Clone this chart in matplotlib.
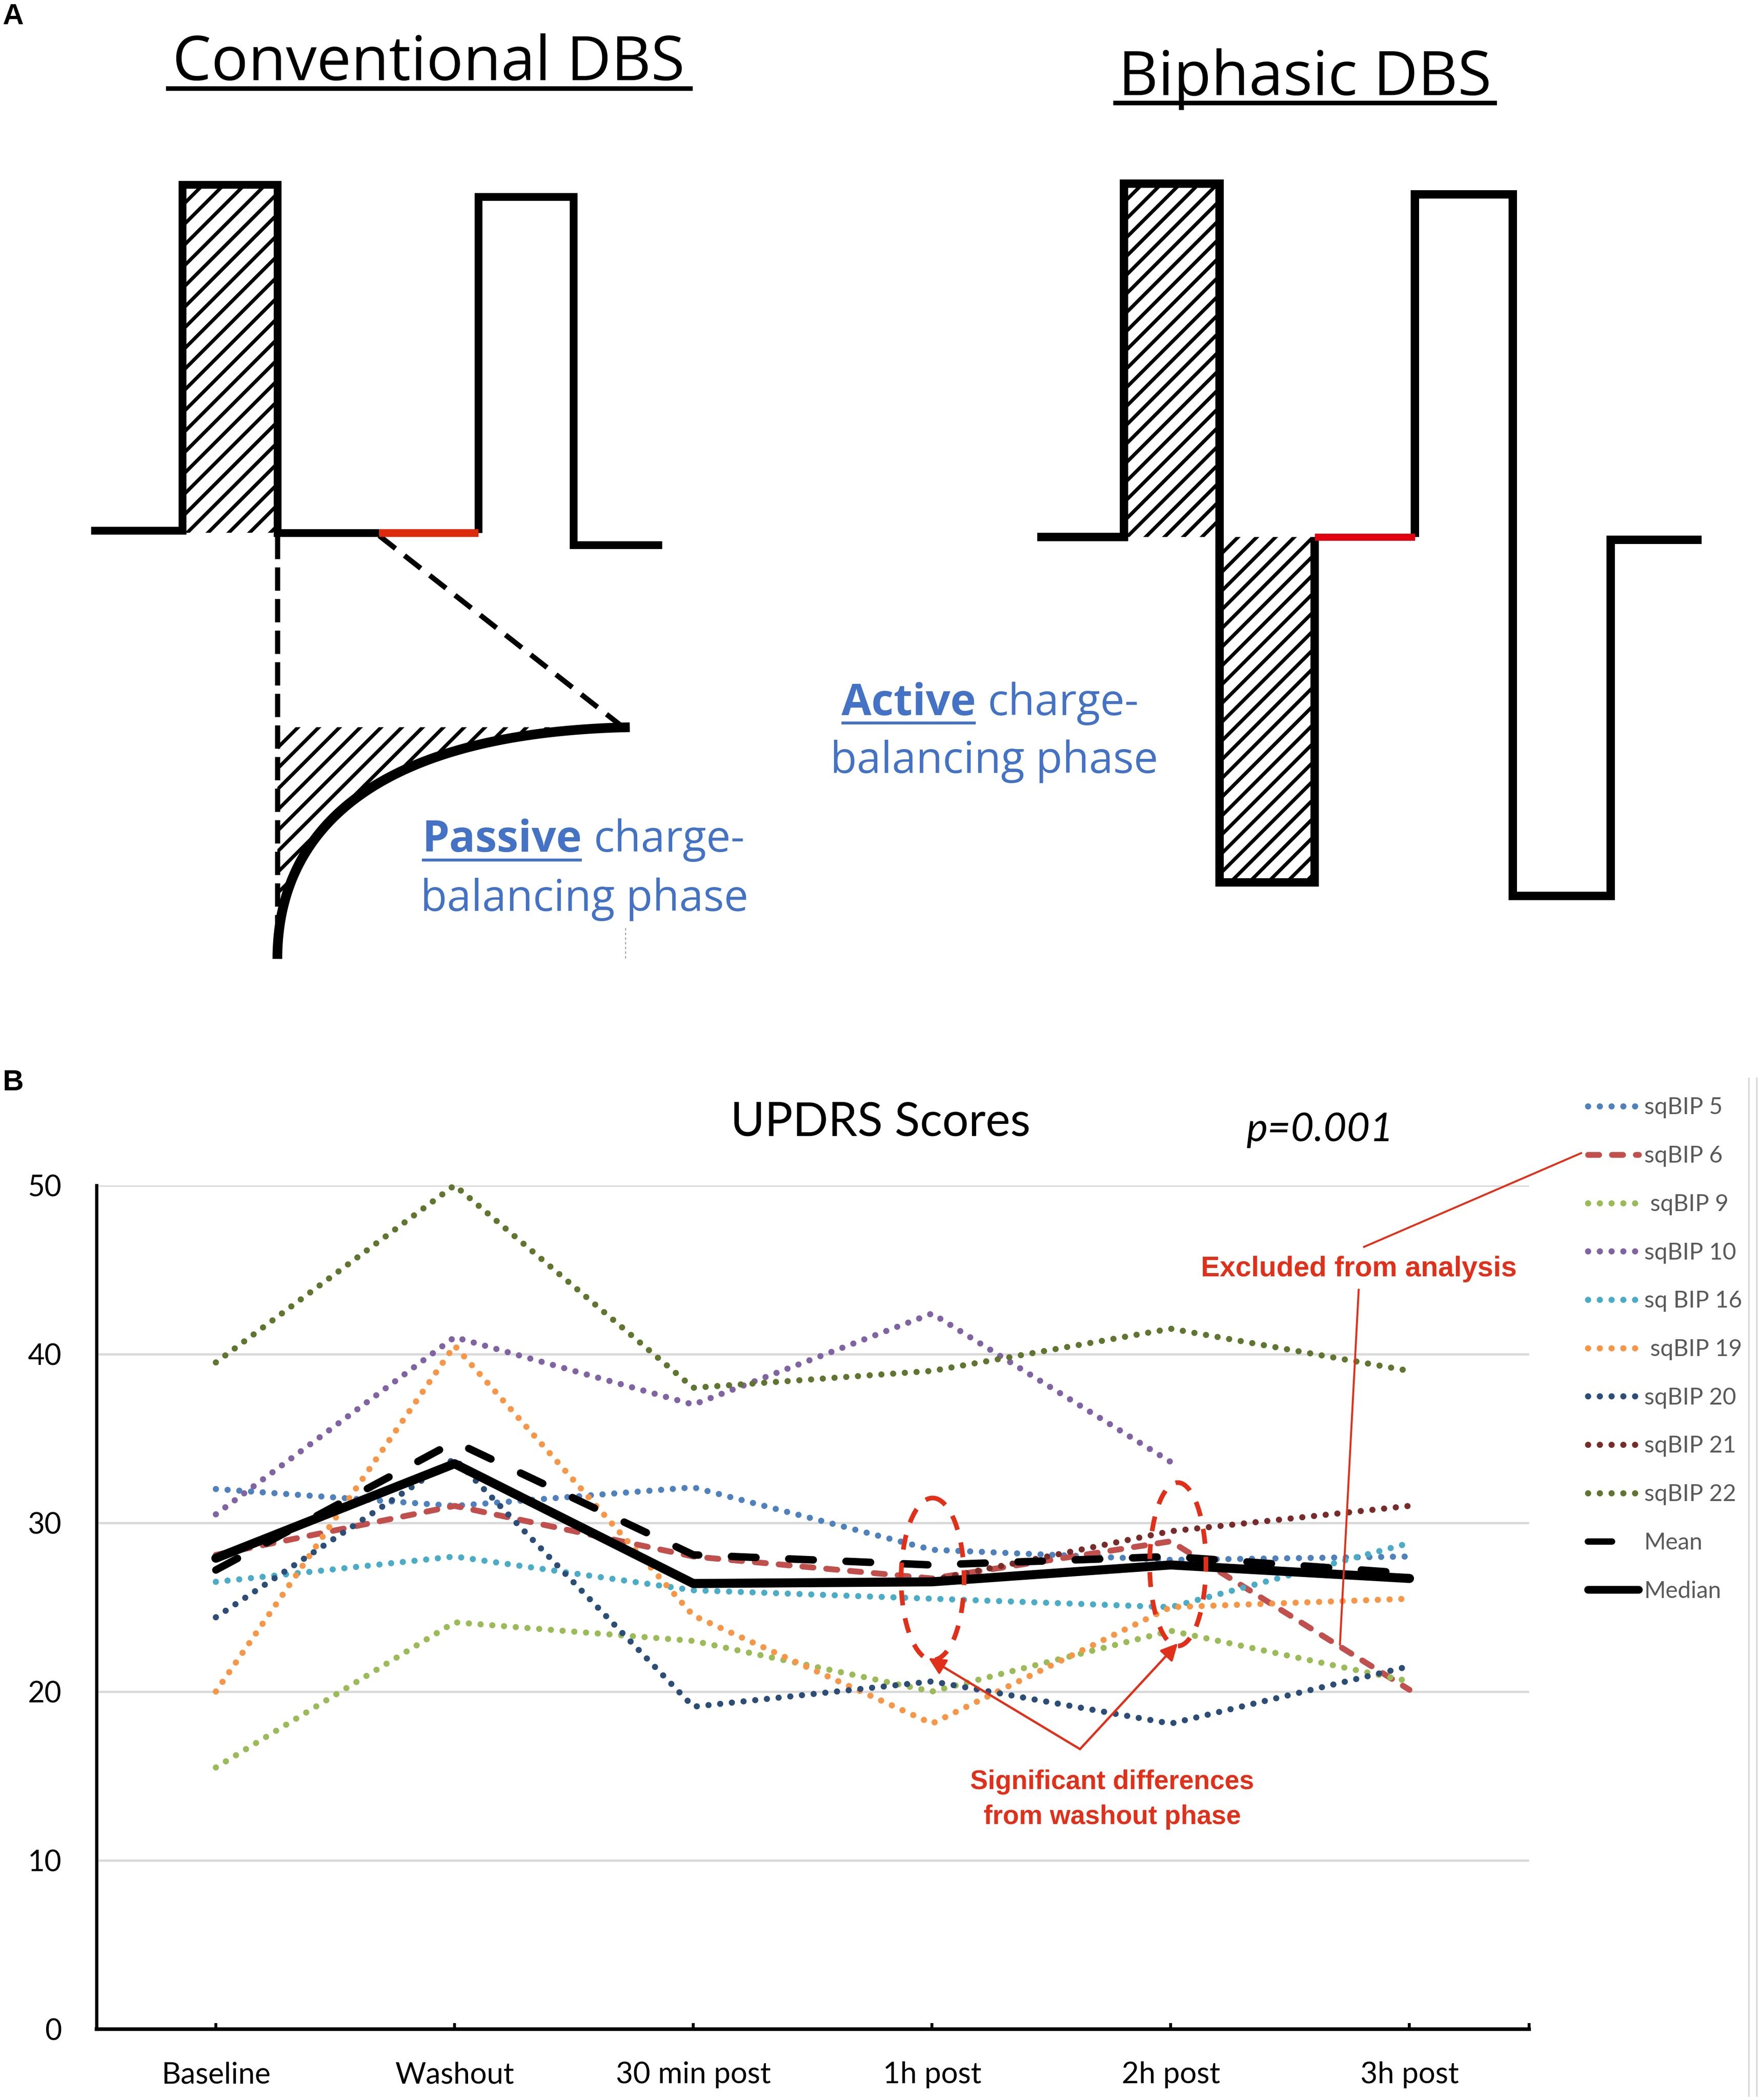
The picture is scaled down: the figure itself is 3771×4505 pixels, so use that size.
import numpy as np
import matplotlib.pyplot as plt
from matplotlib.patches import Ellipse, Polygon
from matplotlib.collections import LineCollection
from matplotlib import font_manager

# ---- data (UPDRS scores per session) ----
categories = ['Baseline', 'Washout', '30 min post', '1h post', '2h post', '3h post']
sqbip5 = [32.0, 31.0, 32.1, 28.4, 27.8, 28.0]
sqbip6 = [28.1, 31.0, 28.0, 26.7, 28.9, 20.1]
sqbip9 = [15.5, 24.1, 23.0, 20.0, 23.6, 20.6]
sqbip10 = [30.5, 41.0, 37.0, 42.4, 33.6, np.nan]
sqbip16 = [26.5, 28.0, 26.0, 25.5, 25.0, 28.8]
sqbip19 = [20.0, 40.5, 24.5, 18.1, 25.0, 25.5]
sqbip20 = [24.4, 33.8, 19.1, 20.6, 18.1, 21.5]
sqbip21 = [np.nan, np.nan, np.nan, 26.6, 29.5, 31.0]
sqbip22 = [39.5, 50.0, 38.0, 39.0, 41.5, 39.0]
mean_vals = [27.2, 34.8, 28.1, 27.5, 28.0, 27.0]
median_vals = [27.9, 33.5, 26.4, 26.5, 27.5, 26.7]

legend_labels = ['sqBIP 5', 'sqBIP 6', ' sqBIP 9', 'sqBIP 10', 'sq BIP 16',
                 ' sqBIP 19', 'sqBIP 20', 'sqBIP 21', 'sqBIP 22', 'Mean', 'Median']
colors = ['#4F81BD', '#C0504D', '#9BBB59', '#8064A2', '#4BACC6',
          '#F79646', '#2C4D75', '#772C2A', '#5F7530', 'black', 'black']
yticks = [0, 10, 20, 30, 40, 50]

RED = '#E0301A'
BLUE_TXT = '#4472C4'
W, H = 1312, 1568          # layout units (reference scale)
FIG_W, FIG_H = 37.71, 45.05
DPI = 100

names = {f.name for f in font_manager.fontManager.ttflist}
if 'Liberation Sans Narrow' in names:
    red_font, red_scale = 'Liberation Sans Narrow', 1.0
else:
    red_font, red_scale = 'Liberation Sans', 0.95
CHART_FONT = 'Lato'
A_FONT = 'Open Sans'

fig = plt.figure(figsize=(FIG_W, FIG_H), dpi=DPI)
fig.patch.set_facecolor('white')

# chart axes
ax = fig.add_axes([72 / W, 1 - 1515 / H, (1141 - 72) / W, (1515 - 885) / H])
# overlay in layout units for drawings / annotations
ov = fig.add_axes([0, 0, 1, 1], zorder=5)
ov.set_xlim(0, W)
ov.set_ylim(H, 0)
ov.axis('off')
ov.patch.set_alpha(0)

# ---------------- panel B ----------------
x = np.arange(len(categories))
DOT = (0, (0.01, 1.9))
styles = [dict(lw=9.5, ls=DOT)] * 11
styles[1] = dict(lw=9, ls=(0, (1.9, 2.2)))
styles[9] = dict(lw=11.5, ls=(0, (3.3, 4.4)))
styles[10] = dict(lw=14, ls='-')
all_series = [sqbip5, sqbip6, sqbip9, sqbip10, sqbip16, sqbip19,
              sqbip20, sqbip21, sqbip22, mean_vals, median_vals]

for i, vals in enumerate(all_series):
    st = styles[i]
    ax.plot(x, vals, color=colors[i], lw=st['lw'], linestyle=st['ls'],
            dash_capstyle='round', solid_capstyle='round',
            solid_joinstyle='round', clip_on=False, zorder=3 + i * 0.1)

ax.set_xlim(-0.5, 5.5)
ax.set_ylim(0, 50)
ax.set_yticks(yticks)
ax.set_yticklabels([str(v) for v in yticks], fontsize=45, family=CHART_FONT)
ax.set_xticks(x)
ax.set_xticklabels(categories, fontsize=46, family=CHART_FONT)
ax.set_xticks([5.5], minor=True)
ax.tick_params(axis='y', length=0, pad=54)
ax.tick_params(axis='x', which='both', direction='in', length=9.5, width=4.5, pad=50)
ax.yaxis.grid(True, color='#D9D9D9', lw=3.5)
ax.set_axisbelow(True)
for s in ['top', 'right']:
    ax.spines[s].set_visible(False)
ax.spines['left'].set_linewidth(5)
ax.spines['bottom'].set_linewidth(5.5)
ax.spines['bottom'].set_zorder(10)

ov.text(657, 848, 'UPDRS Scores', fontsize=72, family=CHART_FONT, ha='center', va='baseline')
ov.text(985, 852, 'p=0.001', fontsize=62, family=CHART_FONT, style='italic', ha='center', va='baseline')
ov.text(2, 814, 'B', fontsize=45, family='Liberation Sans', weight='bold', ha='left', va='baseline')

# legend (drawn by hand to keep the layout of the original)
for i, lab in enumerate(legend_labels):
    y = 826 + i * 36.1
    st = styles[i]
    x1 = 1223
    ls = st['ls']
    if i == 9:
        x1, ls = 1203, '-'
    ov.plot([1185, x1], [y, y], color=colors[i], lw=st['lw'] * (1.0 if i < 9 else 0.85),
            linestyle=ls, dash_capstyle='round', solid_capstyle='round')
    ov.text(1227, y + 6, lab, fontsize=36, family=CHART_FONT, color='#595959',
            ha='left', va='baseline')

# right border of chart area
ov.plot([1305, 1305], [805, 1565], color='#D9D9D9', lw=2.5)
ov.plot([1311, 1311], [805, 1565], color='#D9D9D9', lw=2.5)

# red annotations
for cx, cy, ew, eh in [(696, 1179, 47, 121), (879, 1168, 42, 122)]:
    ov.add_patch(Ellipse((cx, cy), ew, eh, fill=False, ec=RED, lw=7.2,
                         ls=(0, (3.2, 2.8)), zorder=6))
for tx, ty in [(693, 1238), (879, 1227)]:
    ov.annotate('', xy=(tx, ty), xytext=(806, 1306),
                arrowprops=dict(arrowstyle='-|>', color=RED, lw=3.5,
                                mutation_scale=55, shrinkA=0, shrinkB=0))
ov.text(830, 1336, 'Significant differences', fontsize=43 * red_scale, family=red_font,
        weight='bold', color=RED, ha='center', va='baseline')
ov.text(830, 1362, 'from washout phase', fontsize=43 * red_scale, family=red_font,
        weight='bold', color=RED, ha='center', va='baseline')
ov.text(1014, 953, 'Excluded from analysis', fontsize=46 * red_scale, family=red_font,
        weight='bold', color=RED, ha='center', va='baseline')
ov.plot([1018, 1180], [931, 861], color=RED, lw=3)
ov.plot([1014, 1000], [963, 1228], color=RED, lw=3)

# ---------------- panel A ----------------
def hatch(verts, spacing, lw=5.5):
    patch = Polygon(verts, closed=True, fc='none', ec='none')
    ov.add_patch(patch)
    xs = [v[0] for v in verts]
    ys = [v[1] for v in verts]
    x0, x1, y0, y1 = min(xs), max(xs), min(ys), max(ys)
    segs = []
    c = y0
    while c < y1 + (x1 - x0) + spacing:
        # line going up-right on screen
        segs.append([(x0, c), (x1, c - (x1 - x0))])
        c += spacing
    lc = LineCollection(segs, colors='black', linewidths=lw, zorder=2)
    ov.add_collection(lc)
    lc.set_clip_path(patch)

WAVE_LW = 12
ov.text(2, 18, 'A', fontsize=45, family='Liberation Sans', weight='bold', ha='left', va='baseline')

# conventional DBS
ov.text(320, 60, 'Conventional DBS', fontsize=95, family=A_FONT, ha='center', va='baseline')
ov.plot([124, 517], [66, 66], color='black', lw=7, solid_capstyle='butt')
hatch([(136, 138), (207, 138), (207, 398), (136, 398)], 15.5)
ov.plot([68, 136, 136, 207, 207, 283], [396, 396, 138, 138, 398, 398], color='black',
        lw=WAVE_LW, solid_joinstyle='miter', solid_capstyle='butt')
ov.plot([357, 357, 428, 428, 494], [398, 147, 147, 407, 407], color='black',
        lw=WAVE_LW, solid_joinstyle='miter', solid_capstyle='butt')
ov.plot([283, 357], [398, 398], color='#DD2A0C', lw=WAVE_LW, solid_capstyle='butt', zorder=4)
ov.plot([207, 207], [400, 712], color='black', lw=8, ls=(0, (4.5, 1.6)))
ov.plot([283, 465], [400, 543], color='black', lw=8, ls=(0, (4.0, 2.2)))

# passive recovery curve (cubic bezier)
P = np.array([(207, 716), (207, 618), (282, 547), (470, 543)])
t = np.linspace(0, 1, 80)[:, None]
curve = ((1 - t) ** 3 * P[0] + 3 * (1 - t) ** 2 * t * P[1]
         + 3 * (1 - t) * t ** 2 * P[2] + t ** 3 * P[3])
hatch([(207, 543)] + [tuple(p) for p in curve[::-1]], 15.5)
ov.plot(curve[:, 0], curve[:, 1], color='black', lw=15, solid_capstyle='butt')
ov.plot([467, 467], [693, 716], color='#888888', lw=1.2, ls=(0, (3, 3)))

# biphasic DBS
ov.text(974, 71, 'Biphasic DBS', fontsize=95, family=A_FONT, ha='center', va='baseline')
ov.plot([831, 1117], [77, 77], color='black', lw=7, solid_capstyle='butt')
hatch([(839, 137), (910, 137), (910, 401), (839, 401)], 14)
hatch([(910, 401), (981, 401), (981, 659), (910, 659)], 14)
ov.plot([774, 839, 839, 910, 910, 981, 981], [401, 401, 137, 137, 659, 659, 401],
        color='black', lw=13, solid_joinstyle='miter', solid_capstyle='butt')
ov.plot([1056, 1056, 1129, 1129, 1202, 1202, 1270], [401, 145, 145, 669, 669, 403, 403],
        color='black', lw=13, solid_joinstyle='miter', solid_capstyle='butt')
ov.plot([981, 1056], [401, 401], color='#E00010', lw=11, solid_capstyle='butt', zorder=4)

# blue labels with underlined keyword
fig.canvas.draw()
renderer = fig.canvas.get_renderer()
px_per_unit = FIG_W * DPI / W


def label(x_left, y1, y2, key, rest, x_center):
    t1 = ov.text(x_left, y1, key, fontsize=67, family=A_FONT, weight='bold',
                 color=BLUE_TXT, ha='left', va='baseline')
    bb = t1.get_window_extent(renderer=renderer)
    w = bb.width / px_per_unit
    ov.plot([x_left, x_left + w], [y1 + 6, y1 + 6], color=BLUE_TXT, lw=4.5,
            solid_capstyle='butt')
    ov.text(x_left + w + 9, y1, rest, fontsize=67, family=A_FONT, color=BLUE_TXT,
            ha='left', va='baseline')
    ov.text(x_center, y2, 'balancing phase', fontsize=67, family=A_FONT,
            color=BLUE_TXT, ha='center', va='baseline')


label(315, 636, 680, 'Passive', 'charge-', 436)
label(628, 534, 577, 'Active', 'charge-', 742)

fig.savefig('out.png', dpi=DPI, facecolor='white')
